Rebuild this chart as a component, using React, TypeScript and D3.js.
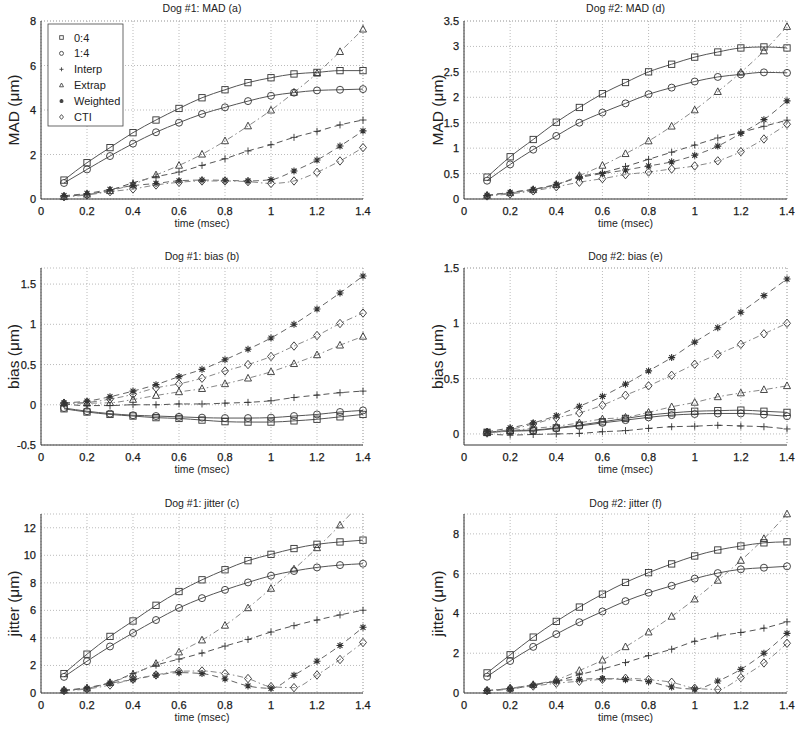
import React from 'react';
import * as d3 from 'd3';

// ---------------- DATA ----------------
const times = [0.1, 0.2, 0.3, 0.4, 0.5, 0.6, 0.7, 0.8, 0.9, 1.0, 1.1, 1.2, 1.3, 1.4];
const xTicks = [0, 0.2, 0.4, 0.6, 0.8, 1, 1.2, 1.4];
const seriesNames = ['0:4', '1:4', 'Interp', 'Extrap', 'Weighted', 'CTI'];

// Dog #1: MAD (a)
const madDog1_04 = [0.85, 1.63, 2.31, 2.98, 3.55, 4.07, 4.55, 4.91, 5.23, 5.45, 5.62, 5.69, 5.77, 5.77];
const madDog1_14 = [0.72, 1.33, 1.93, 2.49, 3.0, 3.43, 3.82, 4.12, 4.40, 4.64, 4.78, 4.88, 4.91, 4.94];
const madDog1_interp = [0.13, 0.21, 0.40, 0.73, 1.0, 1.21, 1.51, 1.81, 2.16, 2.44, 2.77, 3.04, 3.33, 3.55];
const madDog1_extrap = [0.10, 0.21, 0.37, 0.66, 1.08, 1.51, 2.01, 2.61, 3.28, 3.99, 4.79, 5.65, 6.62, 7.63];
const madDog1_weighted = [0.15, 0.25, 0.43, 0.60, 0.70, 0.82, 0.85, 0.84, 0.81, 0.87, 1.26, 1.75, 2.38, 3.06];
const madDog1_cti = [0.10, 0.18, 0.33, 0.45, 0.63, 0.75, 0.81, 0.81, 0.78, 0.70, 0.81, 1.20, 1.71, 2.31];

// Dog #2: MAD (d)
const madDog2_04 = [0.43, 0.83, 1.17, 1.51, 1.80, 2.07, 2.29, 2.50, 2.65, 2.79, 2.89, 2.97, 2.99, 2.97];
const madDog2_14 = [0.36, 0.68, 0.97, 1.24, 1.50, 1.70, 1.88, 2.06, 2.19, 2.31, 2.40, 2.45, 2.49, 2.48];
const madDog2_interp = [0.07, 0.13, 0.19, 0.28, 0.44, 0.52, 0.64, 0.78, 0.92, 1.06, 1.20, 1.31, 1.43, 1.55];
const madDog2_extrap = [0.07, 0.12, 0.18, 0.28, 0.46, 0.66, 0.89, 1.14, 1.43, 1.75, 2.11, 2.49, 2.91, 3.39];
const madDog2_weighted = [0.07, 0.13, 0.19, 0.29, 0.42, 0.50, 0.57, 0.65, 0.73, 0.86, 1.04, 1.29, 1.56, 1.93];
const madDog2_cti = [0.06, 0.10, 0.16, 0.24, 0.33, 0.40, 0.48, 0.53, 0.59, 0.65, 0.75, 0.93, 1.18, 1.47];

// Dog #1: bias (b)
const biasDog1_04 = [-0.05, -0.09, -0.12, -0.14, -0.16, -0.17, -0.19, -0.21, -0.215, -0.215, -0.20, -0.18, -0.15, -0.12];
const biasDog1_14 = [-0.04, -0.08, -0.11, -0.13, -0.14, -0.15, -0.16, -0.165, -0.165, -0.16, -0.14, -0.12, -0.09, -0.07];
const biasDog1_interp = [0.01, -0.01, -0.01, 0.0, 0.0, 0.01, 0.01, 0.02, 0.03, 0.05, 0.09, 0.12, 0.15, 0.17];
const biasDog1_extrap = [0.02, 0.02, 0.025, 0.065, 0.115, 0.16, 0.20, 0.26, 0.33, 0.41, 0.51, 0.62, 0.74, 0.85];
const biasDog1_weighted = [0.025, 0.045, 0.10, 0.17, 0.25, 0.35, 0.44, 0.56, 0.69, 0.83, 1.0, 1.19, 1.39, 1.60];
const biasDog1_cti = [0.02, 0.03, 0.07, 0.13, 0.21, 0.26, 0.33, 0.42, 0.50, 0.60, 0.73, 0.86, 1.01, 1.14];

// Dog #2: bias (e)
const biasDog2_04 = [0.015, 0.03, 0.035, 0.055, 0.08, 0.11, 0.14, 0.17, 0.19, 0.205, 0.21, 0.215, 0.205, 0.195];
const biasDog2_14 = [0.012, 0.025, 0.03, 0.05, 0.072, 0.10, 0.125, 0.15, 0.17, 0.18, 0.185, 0.185, 0.175, 0.16];
const biasDog2_interp = [0.0, -0.01, -0.005, 0.0, 0.005, 0.02, 0.03, 0.05, 0.065, 0.07, 0.078, 0.072, 0.065, 0.045];
const biasDog2_extrap = [0.01, 0.03, 0.05, 0.07, 0.10, 0.135, 0.15, 0.195, 0.245, 0.285, 0.335, 0.37, 0.40, 0.435];
const biasDog2_weighted = [0.02, 0.055, 0.10, 0.165, 0.25, 0.34, 0.45, 0.57, 0.69, 0.83, 0.96, 1.10, 1.25, 1.40];
const biasDog2_cti = [0.015, 0.04, 0.09, 0.145, 0.19, 0.26, 0.35, 0.435, 0.53, 0.63, 0.72, 0.81, 0.905, 1.0];

// Dog #1: jitter (c)
const jitDog1_04 = [1.41, 2.82, 4.11, 5.23, 6.37, 7.37, 8.22, 8.95, 9.61, 10.07, 10.49, 10.8, 10.97, 11.1];
const jitDog1_14 = [1.17, 2.31, 3.38, 4.36, 5.30, 6.18, 6.89, 7.49, 8.03, 8.52, 8.86, 9.12, 9.29, 9.39];
const jitDog1_interp = [0.2, 0.39, 0.75, 1.41, 2.02, 2.46, 2.9, 3.41, 3.89, 4.43, 4.89, 5.30, 5.67, 6.01];
const jitDog1_extrap = [0.2, 0.34, 0.75, 1.36, 2.14, 2.97, 3.84, 4.91, 6.18, 7.59, 9.0, 10.54, 12.19, 14.0];
const jitDog1_weighted = [0.2, 0.34, 0.71, 0.97, 1.29, 1.48, 1.41, 1.02, 0.51, 0.34, 1.29, 2.31, 3.45, 4.77];
const jitDog1_cti = [0.17, 0.29, 0.58, 1.0, 1.31, 1.58, 1.6, 1.41, 1.05, 0.46, 0.39, 1.31, 2.43, 3.67];

// Dog #2: jitter (f)
const jitDog2_04 = [1.01, 1.92, 2.81, 3.6, 4.32, 4.97, 5.56, 6.05, 6.49, 6.89, 7.19, 7.39, 7.55, 7.6];
const jitDog2_14 = [0.82, 1.61, 2.32, 2.96, 3.56, 4.10, 4.62, 5.04, 5.39, 5.75, 6.03, 6.22, 6.3, 6.37];
const jitDog2_interp = [0.12, 0.22, 0.42, 0.6, 0.92, 1.21, 1.53, 1.88, 2.2, 2.6, 2.87, 3.04, 3.26, 3.58];
const jitDog2_extrap = [0.12, 0.24, 0.42, 0.67, 1.13, 1.65, 2.32, 3.06, 3.85, 4.72, 5.66, 6.66, 7.76, 9.0];
const jitDog2_weighted = [0.12, 0.2, 0.39, 0.59, 0.69, 0.72, 0.67, 0.57, 0.3, 0.2, 0.6, 1.19, 2.0, 3.0];
const jitDog2_cti = [0.12, 0.22, 0.35, 0.49, 0.59, 0.69, 0.74, 0.67, 0.54, 0.24, 0.18, 0.77, 1.51, 2.5];

const titles = ['Dog #1: MAD (a)', 'Dog #2: MAD (d)', 'Dog #1: bias (b)', 'Dog #2: bias (e)', 'Dog #1: jitter (c)', 'Dog #2: jitter (f)'];
const yLabels = ['MAD (\u03bcm)', 'MAD (\u03bcm)', 'bias (\u03bcm)', 'bias (\u03bcm)', 'jitter (\u03bcm)', 'jitter (\u03bcm)'];
const yTicksA = [0, 2, 4, 6, 8];
const yTicksD = [0, 0.5, 1, 1.5, 2, 2.5, 3, 3.5];
const yTicksB = [-0.5, 0, 0.5, 1, 1.5];
const yTicksE = [0, 0.5, 1, 1.5];
const yTicksC = [0, 2, 4, 6, 8, 10, 12];
const yTicksF = [0, 2, 4, 6, 8];
const yDomA = [0, 8];
const yDomD = [0, 3.5];
const yDomB = [-0.5, 1.7];
const yDomE = [-0.1, 1.5];
const yDomC = [0, 13];
const yDomF = [0, 9];

// ---------------- LAYOUT / STYLE ----------------
const colX = [{ x0: 41, x1: 363, lab: 15 }, { x0: 464, x1: 787, lab: 439 }];
const rowY = [{ y0: 21, y1: 199, t: 12 }, { y0: 268, y1: 445, t: 260 }, { y0: 514, y1: 693, t: 507 }];

const panels = [
  { title: titles[0], ylab: yLabels[0], ticks: yTicksA, dom: yDomA, col: 0, row: 0, legend: true,
    data: [madDog1_04, madDog1_14, madDog1_interp, madDog1_extrap, madDog1_weighted, madDog1_cti] },
  { title: titles[1], ylab: yLabels[1], ticks: yTicksD, dom: yDomD, col: 1, row: 0,
    data: [madDog2_04, madDog2_14, madDog2_interp, madDog2_extrap, madDog2_weighted, madDog2_cti] },
  { title: titles[2], ylab: yLabels[2], ticks: yTicksB, dom: yDomB, col: 0, row: 1,
    data: [biasDog1_04, biasDog1_14, biasDog1_interp, biasDog1_extrap, biasDog1_weighted, biasDog1_cti] },
  { title: titles[3], ylab: yLabels[3], ticks: yTicksE, dom: yDomE, col: 1, row: 1,
    data: [biasDog2_04, biasDog2_14, biasDog2_interp, biasDog2_extrap, biasDog2_weighted, biasDog2_cti] },
  { title: titles[4], ylab: yLabels[4], ticks: yTicksC, dom: yDomC, col: 0, row: 2,
    data: [jitDog1_04, jitDog1_14, jitDog1_interp, jitDog1_extrap, jitDog1_weighted, jitDog1_cti] },
  { title: titles[5], ylab: yLabels[5], ticks: yTicksF, dom: yDomF, col: 1, row: 2,
    data: [jitDog2_04, jitDog2_14, jitDog2_interp, jitDog2_extrap, jitDog2_weighted, jitDog2_cti] },
];

const styles = [
  { marker: 'square', dash: undefined, color: '#555' },
  { marker: 'circle', dash: undefined, color: '#555' },
  { marker: 'plus', dash: '6,4', color: '#555' },
  { marker: 'triangle', dash: '6,3,1.5,3', color: '#888' },
  { marker: 'asterisk', dash: '6,4', color: '#666' },
  { marker: 'diamond', dash: '6,3,1.5,3', color: '#888' },
];

const FONT = 'Liberation Sans, Arial, Helvetica, sans-serif';
const fmt = (v: number) => String(+v.toFixed(2));
const textStyle = { fill: '#1a1a1a', stroke: '#1a1a1a', strokeWidth: 0.25, fontFamily: FONT };

function Marker({ type, x, y, s, color }: { type: string; x: number; y: number; s: number; color: string }) {
  const common = { fill: 'none', stroke: color, strokeWidth: 0.9 };
  switch (type) {
    case 'square':
      return <rect x={x - s * 0.45} y={y - s * 0.45} width={s * 0.9} height={s * 0.9} {...common} />;
    case 'circle':
      return <circle cx={x} cy={y} r={s * 0.5} {...common} />;
    case 'plus':
      return <path d={`M${x - s / 2},${y}H${x + s / 2}M${x},${y - s / 2}V${y + s / 2}`} {...common} />;
    case 'triangle':
      return <path d={`M${x},${y - s * 0.55}L${x + s * 0.5},${y + s * 0.4}L${x - s * 0.5},${y + s * 0.4}Z`} {...common} />;
    case 'asterisk': {
      const r = s / 2, d = r * 0.707;
      return <path d={`M${x - r},${y}H${x + r}M${x},${y - r}V${y + r}M${x - d},${y - d}L${x + d},${y + d}M${x - d},${y + d}L${x + d},${y - d}`} {...common} strokeWidth={1.1} />;
    }
    case 'diamond':
      return <path d={`M${x},${y - s * 0.6}L${x + s * 0.5},${y}L${x},${y + s * 0.6}L${x - s * 0.5},${y}Z`} {...common} />;
  }
  return null;
}

function Panel({ p, idx }: { p: any; idx: number }) {
  const c = colX[p.col];
  const r = rowY[p.row];
  const x = d3.scaleLinear().domain([0, 1.4]).range([c.x0, c.x1]);
  const y = d3.scaleLinear().domain(p.dom).range([r.y1, r.y0]);
  const line = d3.line<number>().x((_, i) => x(times[i])).y((v) => y(v)).curve(d3.curveMonotoneX);
  const clipId = `clip${idx}`;
  const cx = (c.x0 + c.x1) / 2;
  const cyLab = (r.y0 + r.y1) / 2;
  const inDom = (v: number) => v >= p.dom[0] && v <= p.dom[1];
  return (
    <g>
      <defs>
        <clipPath id={clipId}>
          <rect x={c.x0} y={r.y0} width={c.x1 - c.x0} height={r.y1 - r.y0} />
        </clipPath>
      </defs>
      {/* grid */}
      {xTicks.map((t) => (
        <line key={'gx' + t} x1={x(t)} x2={x(t)} y1={r.y0} y2={r.y1} stroke="#aaa" strokeWidth={0.8} strokeDasharray="1,2" />
      ))}
      {p.ticks.map((t: number) => (
        <line key={'gy' + t} x1={c.x0} x2={c.x1} y1={y(t)} y2={y(t)} stroke="#aaa" strokeWidth={0.8} strokeDasharray="1,2" />
      ))}
      <line x1={c.x0} x2={c.x1} y1={r.y0} y2={r.y0} stroke="#aaa" strokeWidth={0.8} strokeDasharray="1,2" />
      <line x1={c.x1} x2={c.x1} y1={r.y0} y2={r.y1} stroke="#aaa" strokeWidth={0.8} strokeDasharray="1,2" />
      {/* series lines */}
      <g clipPath={`url(#${clipId})`}>
        {p.data.map((vals: number[], si: number) => (
          <path key={'l' + si} d={line(vals) || ''} fill="none" stroke={styles[si].color} strokeWidth={1}
            strokeDasharray={styles[si].dash} />
        ))}
      </g>
      {/* markers (not clipped, only in-range points) */}
      {p.data.map((vals: number[], si: number) =>
        vals.map((v, i) =>
          inDom(v) ? (
            <Marker key={`m${si}-${i}`} type={styles[si].marker} x={x(times[i])} y={y(v)} s={7} color="#333" />
          ) : null
        )
      )}
      {/* axes */}
      <line x1={c.x0} x2={c.x0} y1={r.y0} y2={r.y1} stroke="#333" strokeWidth={1} />
      <line x1={c.x0} x2={c.x1} y1={r.y1} y2={r.y1} stroke="#333" strokeWidth={1} />
      {xTicks.map((t) => (
        <text key={'tx' + t} x={x(t)} y={r.y1 + 16} textAnchor="middle" fontSize={11} {...textStyle}>
          {fmt(t)}
        </text>
      ))}
      {p.ticks.map((t: number) => (
        <text key={'ty' + t} x={c.x0 - 5} y={y(t) + 4} textAnchor="end" fontSize={11} {...textStyle}>
          {fmt(t)}
        </text>
      ))}
      <text x={cx} y={r.t} textAnchor="middle" fontSize={10.5} fill="#222" fontFamily={FONT}>{p.title}</text>
      <text x={cx} y={r.y1 + 28} textAnchor="middle" fontSize={10.5} fill="#222" fontFamily={FONT}>time (msec)</text>
      <text transform={`translate(${c.lab},${cyLab}) rotate(-90)`} textAnchor="middle" dominantBaseline="middle"
        fontSize={15.5} fill="#222" fontFamily={FONT}>{p.ylab}</text>
      {p.legend && (
        <g>
          <rect x={48} y={24} width={75} height={102} fill="#fff" stroke="#444" strokeWidth={0.8} />
          {seriesNames.map((n, i) => (
            <g key={n}>
              <Marker type={styles[i].marker} x={61.5} y={37.5 + i * 15.9} s={4} color="#444" />
              <text x={74} y={37.5 + i * 15.9 + 4} fontSize={11} fill="#222" fontFamily={FONT}>{n}</text>
            </g>
          ))}
        </g>
      )}
    </g>
  );
}

export default function App() {
  return (
    <svg width={800} height={730} style={{ position: 'fixed', left: 0, top: 0, background: '#fff' }}>
      <rect x={0} y={0} width={800} height={730} fill="#fff" />
      {panels.map((p, i) => (
        <Panel key={i} p={p} idx={i} />
      ))}
    </svg>
  );
}
